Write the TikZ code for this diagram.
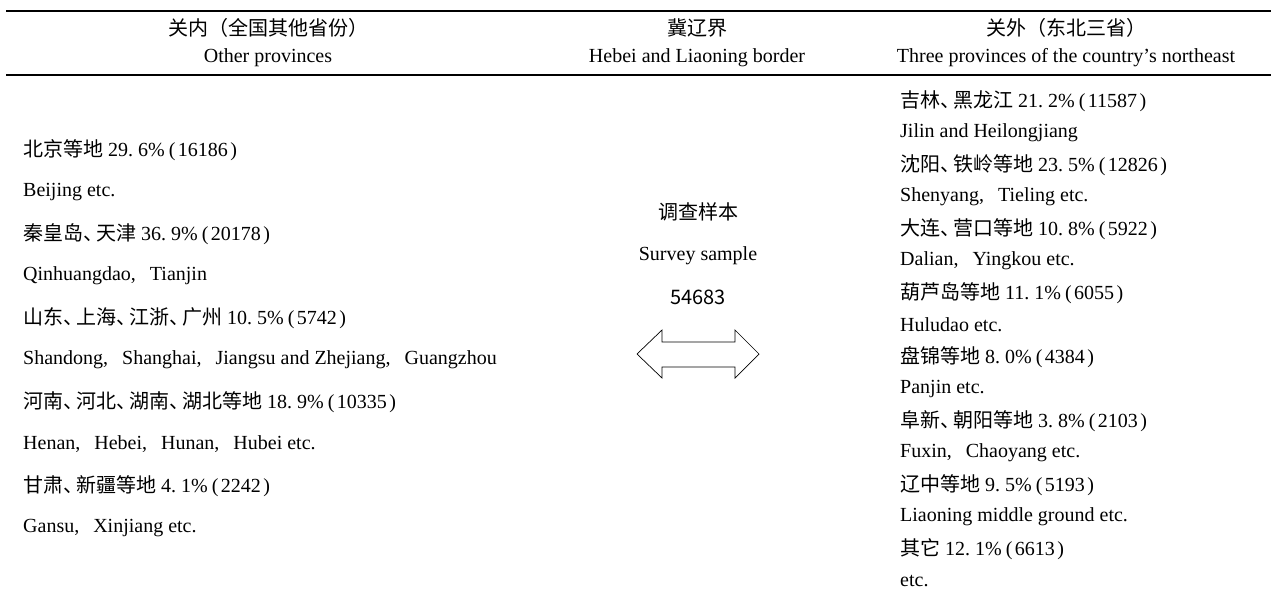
\documentclass[tikz,border=0pt]{standalone}
\usepackage{fontspec}
\setmainfont{Liberation Serif}
\newfontfamily\cjk{Noto Sans CJK SC}
\newcommand\zh[1]{{\cjk #1}}
\newcommand\cm{,\hspace{0.7em}}
\newcommand\dn{{\cjk 、}\hspace{-0.35em}}
\newcommand\pc[2]{#1.\hspace{0.25em}#2\%}
\newcommand\num[1]{\hspace{0.2em}(\hspace{0.12em}#1\hspace{0.12em})}
\begin{document}
\begin{tikzpicture}[x=1pt,y=-1pt,
  txt/.style={inner sep=0pt,anchor=west,font=\fontsize{20}{24}\selectfont},
  hd/.style={inner sep=0pt,anchor=center,font=\fontsize{20}{24}\selectfont},
  rule/.style={line width=1.4pt,black}]
\useasboundingbox (0,0) rectangle (1277,600);
% rules
\coordinate (r1a) at (6,11); \coordinate (r1b) at (1271,11);
\coordinate (r2a) at (6,75); \coordinate (r2b) at (1271,75);
\draw[rule] (r1a) -- (r1b);
\draw[rule] (r2a) -- (r2b);
% headers
\node[hd] (h1) at (268,28) {\zh{关内（全国其他省份）}};
\node[hd] (h2) at (697,28) {\zh{冀辽界}};
\node[hd] (h3) at (1066,28) {\zh{关外（东北三省）}};
\node[hd] (e1) at (268,58) {Other provinces};
\node[hd] (e2) at (697,58) {Hebei and Liaoning border};
\node[hd] (e3) at (1066,58) {Three provinces of the country's northeast};
% left column
\node[txt] (l1) at (23,150) {\zh{北京等地} \pc{29}{6}\num{16186}};
\node[txt] (l2) at (23,192) {Beijing etc.};
\node[txt] (l3) at (23,234) {\zh{秦皇岛}\dn\zh{天津} \pc{36}{9}\num{20178}};
\node[txt] (l4) at (23,276) {Qinhuangdao\cm Tianjin};
\node[txt] (l5) at (23,318) {\zh{山东}\dn\zh{上海}\dn\zh{江浙}\dn\zh{广州} \pc{10}{5}\num{5742}};
\node[txt] (l6) at (23,360) {Shandong\cm Shanghai\cm Jiangsu and Zhejiang\cm Guangzhou};
\node[txt] (l7) at (23,402) {\zh{河南}\dn\zh{河北}\dn\zh{湖南}\dn\zh{湖北等地} \pc{18}{9}\num{10335}};
\node[txt] (l8) at (23,444) {Henan\cm Hebei\cm Hunan\cm Hubei etc.};
\node[txt] (l9) at (23,486) {\zh{甘肃}\dn\zh{新疆等地} \pc{4}{1}\num{2242}};
\node[txt] (l10) at (23,528) {Gansu\cm Xinjiang etc.};
% centre
\node[hd] (c1) at (698,212) {\zh{调查样本}};
\node[hd] (c2) at (698,256) {Survey sample};
\node[hd] (c3) at (698,297) {\zh{54683}};
\draw[line width=0.7pt] (637,354) -- (662,330) -- (662,342) -- (735,342) -- (735,330)
  -- (759,354) -- (735,378) -- (735,367) -- (662,367) -- (662,378) -- cycle;
% right column
\node[txt] (r1) at (900,101) {\zh{吉林}\dn\zh{黑龙江} \pc{21}{2}\num{11587}};
\node[txt] (r2) at (900,133) {Jilin and Heilongjiang};
\node[txt] (r3) at (900,165) {\zh{沈阳}\dn\zh{铁岭等地} \pc{23}{5}\num{12826}};
\node[txt] (r4) at (900,197) {Shenyang\cm Tieling etc.};
\node[txt] (r5) at (900,229) {\zh{大连}\dn\zh{营口等地} \pc{10}{8}\num{5922}};
\node[txt] (r6) at (900,261) {Dalian\cm Yingkou etc.};
\node[txt] (r7) at (900,293) {\zh{葫芦岛等地} \pc{11}{1}\num{6055}};
\node[txt] (r8) at (900,325) {Huludao etc.};
\node[txt] (r9) at (900,357) {\zh{盘锦等地} \pc{8}{0}\num{4384}};
\node[txt] (r10) at (900,389) {Panjin etc.};
\node[txt] (r11) at (900,421) {\zh{阜新}\dn\zh{朝阳等地} \pc{3}{8}\num{2103}};
\node[txt] (r12) at (900,453) {Fuxin\cm Chaoyang etc.};
\node[txt] (r13) at (900,485) {\zh{辽中等地} \pc{9}{5}\num{5193}};
\node[txt] (r14) at (900,517) {Liaoning middle ground etc.};
\node[txt] (r15) at (900,549) {\zh{其它} \pc{12}{1}\num{6613}};
\node[txt] (r16) at (900,581) {etc.};
\end{tikzpicture}
\end{document}
